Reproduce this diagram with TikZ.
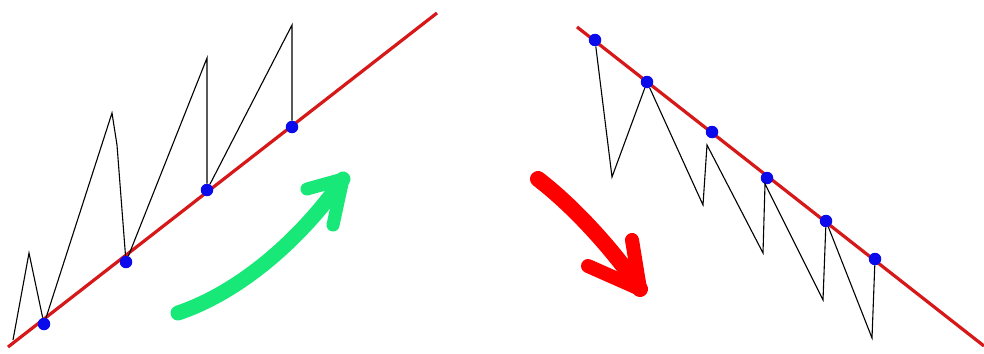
\documentclass[tikz,border=0pt]{standalone}
\usepackage{xcolor}
\usepackage{tikz}
\usetikzlibrary{positioning,calc}
\definecolor{markgreen}{RGB}{24,232,120}
\definecolor{trendred}{RGB}{214,24,24}
\definecolor{pivotblue}{RGB}{10,10,235}

\begin{document}
\begin{tikzpicture}[
    x=1pt, y=-1pt,
    trend/.style={line width=3.2pt, trendred},
    swing/.style={line width=1.1pt, black},
    pivot/.style={circle, fill=pivotblue, inner sep=0pt, minimum size=12.5pt},
    upmark/.style={line width=15pt, markgreen, line cap=round, line join=round},
    downmark/.style={line width=16pt, red, line cap=round, line join=round}
]
\useasboundingbox (0,0) rectangle (984,353);

% rising side
\coordinate (ls) at (8,347);
\coordinate (le) at (437,13);
\draw[trend] (ls) -- (le);

\node[pivot] (u1) at (44,324) {};
\node[pivot] (u2) at (126,262) {};
\node[pivot] (u3) at (207,190) {};
\node[pivot] (u4) at (292,127) {};

\coordinate (us)   at (13,340);
\coordinate (uh0)  at (29,253);
\coordinate (uh1)  at (112,113);
\coordinate (uh1a) at (117,145);
\coordinate (uh2)  at (207,58);
\coordinate (uh3)  at (292,25);

\draw[swing] (us) -- (uh0) -- (u1) -- (uh1) -- (uh1a) -- (u2) -- (uh2) -- (u3) -- (uh3) -- (u4);

% falling side
\coordinate (rs) at (577,27);
\coordinate (re) at (984,346);
\draw[trend] (rs) -- (re);

\node[pivot] (d1) at (595,40) {};
\node[pivot] (d2) at (647,82) {};
\node[pivot] (d3) at (712,132) {};
\node[pivot] (d4) at (767,178) {};
\node[pivot] (d5) at (826,221) {};
\node[pivot] (d6) at (875,259) {};

\coordinate (dl1) at (612,177);
\coordinate (dl2) at (703,205);
\coordinate (dk2) at (707,145);
\coordinate (dl3) at (763,253);
\coordinate (dk3) at (765,184);
\coordinate (dl4) at (823,300);
\coordinate (dl5) at (872,338);

\draw[swing] (d1) -- (dl1) -- (d2) -- (dl2) -- (dk2) -- (dl3) -- (dk3) -- (dl4) -- (d5) -- (dl5) -- (d6);

% hand drawn arrows
\coordinate (ga) at (178,313);
\coordinate (gb) at (343,179);
\coordinate (gl) at (307,189);
\coordinate (gr) at (333,225);
\draw[upmark] (ga) .. controls (240,292) and (300,240) .. (gb);
\draw[upmark, line width=13pt] (gl) -- (gb) -- (gr);

\coordinate (ra) at (538,179);
\coordinate (rb) at (640,289);
\coordinate (rl) at (588,266);
\coordinate (rr) at (632,240);
\draw[downmark] (ra) .. controls (572,205) and (612,248) .. (rb);
\draw[downmark, line width=14pt] (rl) -- (rb) -- (rr);

\end{tikzpicture}
\end{document}
